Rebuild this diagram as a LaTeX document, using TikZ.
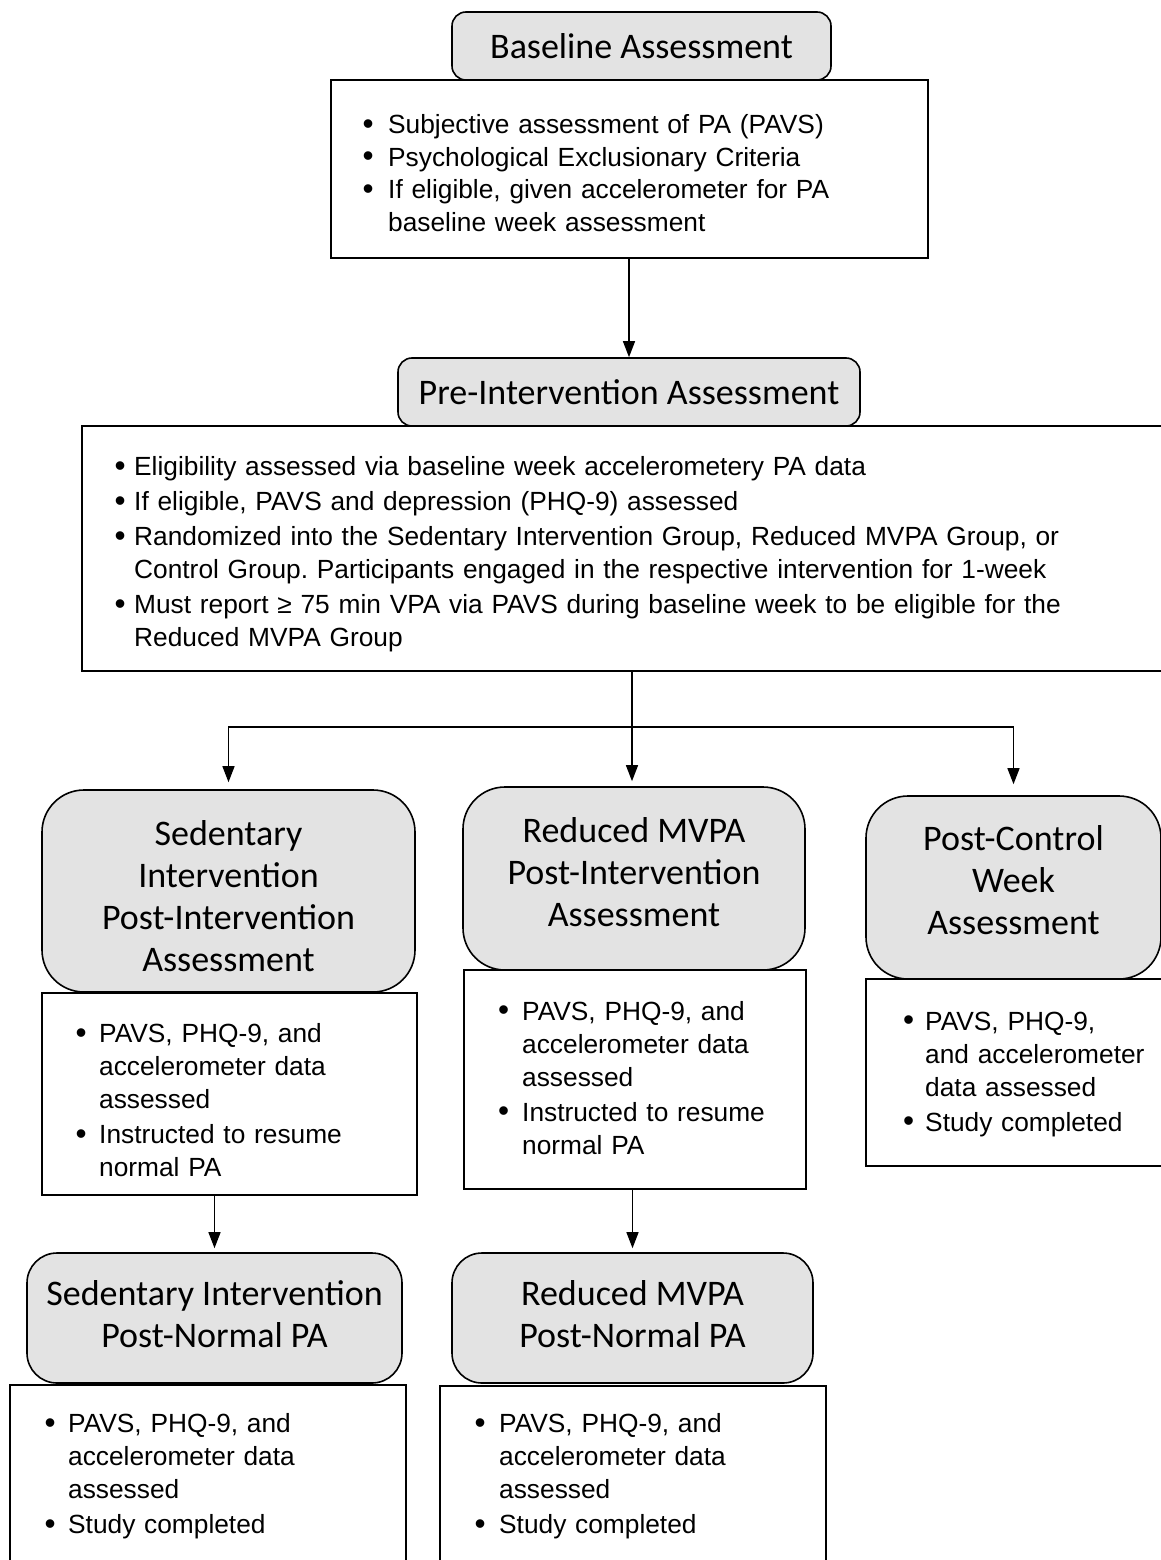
\documentclass[tikz,border=0pt]{standalone}
\usepackage{fontspec}
\setmainfont{Liberation Sans}
\newfontfamily\hfont{Carlito}
\usetikzlibrary{arrows.meta}
\frenchspacing
\newlength\bhang \setlength\bhang{30pt}
\newlength\boff
\newcommand\bitem[1]{\noindent\hangindent=\bhang\hangafter=1\rule{0pt}{20pt}\rlap{\hspace{\dimexpr\bhang-\boff\relax}\makebox[0pt][c]{\raisebox{-0.5pt}{\scalebox{1.2}{\textbullet}}}}\hspace{\bhang}#1\par}
\begin{document}
\begin{tikzpicture}[x=1pt,y=-1pt,
  hdr/.style={draw, line width=1.6pt, fill=black!11, rounded corners=#1, inner sep=0pt},
  hdr/.default=14pt,
  htxt/.style={inner sep=0pt, align=center, font=\hfont\fontsize{36}{42}\selectfont},
  body/.style={draw, line width=2pt, fill=white, inner sep=0pt},
  btxt/.style={inner sep=0pt, anchor=north west, align=left, text width=1100pt,
    font=\fontsize{26.3}{33}\selectfont, execute at begin node={\setlength\boff{#1pt}\setlength\parskip{2pt}\hyphenpenalty=10000 \frenchspacing}},
  arr/.style={line width=1.3pt, -{Triangle[length=16pt,width=12pt]}},
  ln/.style={line width=1.3pt}]
\useasboundingbox (0,0) rectangle (1161,1560);
\clip (0,0) rectangle (1161,1560);
\fill[white] (0,0) rectangle (1161,1560);

% Baseline
\node[body, minimum width=597pt, minimum height=178pt] (bb) at (629.5,169) {};
\node[hdr, minimum width=379pt, minimum height=68pt] (bh) at (641.5,46) {};
\node[htxt] (bht) at (641.5,46) {Baseline Assessment};
\node[btxt=20] (bbt) at (358,113.5) {\setlength\parskip{0pt}\fontsize{26.3}{32.5}\selectfont
\bitem{Subjective assessment of PA (PAVS)}%
\bitem{Psychological Exclusionary Criteria}%
\bitem{If eligible, given accelerometer for PA\newline baseline week assessment}};

% Pre-intervention
\node[body, minimum width=1100pt, minimum height=245pt] (pb) at (632,548.5) {};
\node[hdr, minimum width=462pt, minimum height=68pt] (ph) at (629,392) {};
\node[htxt] (pht) at (629,392) {Pre-Intervention Assessment};
\node[btxt=14] (pbt) at (104,455.5) {%
\bitem{Eligibility assessed via baseline week accelerometery PA data}%
\bitem{If eligible, PAVS and depression (PHQ-9) assessed}%
\bitem{Randomized into the Sedentary Intervention Group, Reduced MVPA Group, or\newline Control Group. Participants engaged in the respective intervention for 1-week}%
\bitem{Must report ≥ 75 min VPA via PAVS during baseline week to be eligible for the\newline Reduced MVPA Group}};

\draw[arr] (bb.south -| ph.north) -- (ph.north);

% Sedentary
\node[body, minimum width=375pt, minimum height=202pt] (sb) at (229.5,1094) {};
\node[hdr=42pt, minimum width=373pt, minimum height=202pt] (sh) at (228.5,891) {};
\node[htxt] (sht) at (228.5,896) {Sedentary\\Intervention\\Post-Intervention\\Assessment};
\node[btxt=18] (sbt) at (69,1022.5) {%
\bitem{PAVS, PHQ-9, and\newline accelerometer data\newline assessed}%
\bitem{Instructed to resume\newline normal PA}};

% Reduced
\node[body, minimum width=342pt, minimum height=219pt] (rb) at (635,1079.5) {};
\node[hdr=42pt, minimum width=342pt, minimum height=183pt] (rh) at (634,878.5) {};
\node[htxt] (rht) at (634,872) {Reduced MVPA\\Post-Intervention\\Assessment};
\node[btxt=18.5] (rbt) at (492,1000) {%
\bitem{PAVS, PHQ-9, and\newline accelerometer data\newline assessed}%
\bitem{Instructed to resume\newline normal PA}};

% Control
\node[body, minimum width=304pt, minimum height=187pt] (cb) at (1018,1072.5) {};
\node[hdr=42pt, minimum width=295pt, minimum height=183pt] (ch) at (1013.5,887.5) {};
\node[htxt] (cht) at (1013.5,880) {Post-Control\\Week\\Assessment};
\node[btxt=16.5] (cbt) at (895,1010) {%
\bitem{PAVS, PHQ-9,\newline and accelerometer\newline data assessed}%
\bitem{Study completed}};

% Sedentary normal
\node[body, minimum width=396pt, minimum height=190pt] (snb) at (208,1480) {};
\node[hdr=30pt, minimum width=375pt, minimum height=130pt] (snh) at (214.5,1318) {};
\node[htxt] (snht) at (214.5,1314) {Sedentary Intervention\\Post-Normal PA};
\node[btxt=18] (snbt) at (38,1412.5) {%
\bitem{PAVS, PHQ-9, and\newline accelerometer data\newline assessed}%
\bitem{Study completed}};

% Reduced normal
\node[body, minimum width=386pt, minimum height=190pt] (rnb) at (633,1481) {};
\node[hdr=30pt, minimum width=361pt, minimum height=130pt] (rnh) at (632.5,1318) {};
\node[htxt] (rnht) at (632.5,1314) {Reduced MVPA\\Post-Normal PA};
\node[btxt=19] (rnbt) at (469,1412.5) {%
\bitem{PAVS, PHQ-9, and\newline accelerometer data\newline assessed}%
\bitem{Study completed}};

% connectors
\coordinate (split) at (632,727);
\draw[ln] (pb.south) -- (split);
\draw[arr, shorten >=5pt] (split) -- (rh.north -| split);
\draw[arr, shorten >=7pt] (split) -| (sh.north);
\draw[arr, shorten >=11pt] (split) -| (ch.north);
\draw[arr, shorten >=4pt] (sb.south -| snh.north) -- (snh.north);
\draw[arr, shorten >=4pt] (rb.south -| rnh.north) -- (rnh.north);
\end{tikzpicture}
\end{document}
